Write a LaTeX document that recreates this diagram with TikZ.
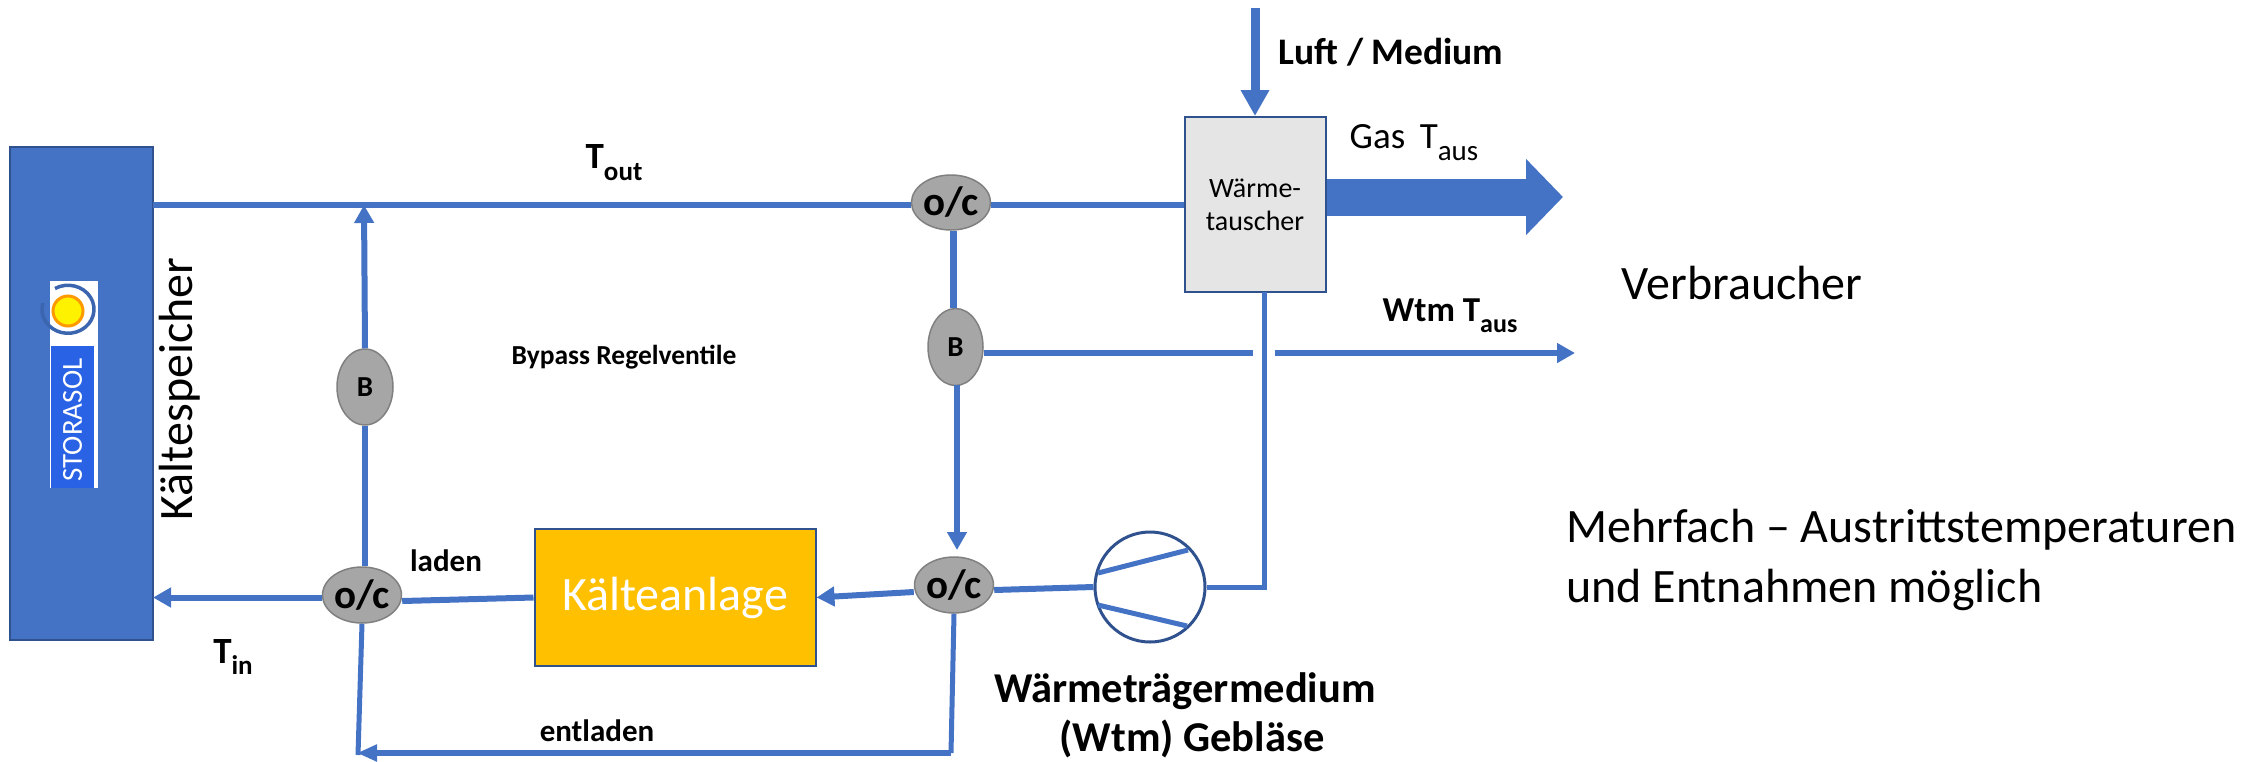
\documentclass[tikz,border=0pt]{standalone}
\usepackage{fontspec}
\setmainfont{Carlito}
\usetikzlibrary{arrows.meta,shapes.geometric}
\newcommand\fsz[1]{\fontsize{#1pt}{#1pt}\selectfont}
\newcommand\subtxt[2]{\raisebox{-0.32em}{\fontsize{#1pt}{#1pt}\selectfont #2}}
\definecolor{pipe}{HTML}{4472C4}
\definecolor{edgeblue}{HTML}{2F528F}
\definecolor{plantfill}{HTML}{FFC000}
\definecolor{panelblue}{HTML}{2A62E6}
\tikzset{
  pipeline/.style={draw=pipe,line width=6pt},
  thinpipe/.style={draw=pipe,line width=5pt},
  arrowpipe/.style={pipeline,-{Triangle[length=18pt,width=19pt]}},
  valve/.style={ellipse,draw=black!50,line width=1.5pt,fill=black!35,inner sep=0pt,text=black,font=\fsz{41}\bfseries},
  bvalve/.style={valve,font=\fsz{29}\bfseries},
  box/.style={rectangle,draw=edgeblue,line width=2pt,inner sep=0pt},
  label/.style={inner sep=0pt,text=black},
  bl/.style={label,font=\fsz{37}\bfseries},
  big/.style={label,font=\fsz{48}},
}
\begin{document}
\begin{tikzpicture}[x=1pt,y=-1pt]
\useasboundingbox (0,0) rectangle (2266,761);
% boxes
\node[box,fill=pipe,minimum width=143pt,minimum height=493pt] (tank) at (81.5,393.5) {};
\node[box,fill=black!10,minimum width=141pt,minimum height=175pt,align=center,font=\fsz{28}] (hx) at (1255,204.5) {W\"arme-\\[5pt]tauscher};
\node[rectangle,fill=white,minimum width=48pt,minimum height=207pt,inner sep=0pt] (logo) at (74,384.5) {};
\node[rectangle,fill=panelblue,minimum width=43pt,minimum height=142pt,inner sep=0pt] (logopanel) at (72.5,417) {};
\node[rotate=90,text=white,inner sep=0pt,font=\fsz{29}] (storasol) at (72.5,420) {STORASOL};
\node[circle,fill=yellow,draw=orange!80!yellow,line width=3pt,minimum size=30pt,inner sep=0pt] (sun) at (68,311) {};
\draw[edgeblue!40!pipe,line width=3.5pt] (sun.center) ++(120:26pt) arc (120:-195:26pt and 24pt);
\node[box,fill=plantfill,minimum width=281pt,minimum height=137pt,text=white,font=\fsz{48}] (plant) at (675,597.5) {K\"alteanlage};
% valves
\node[valve,minimum width=79pt,minimum height=55pt] (vt) at (951,202.5) {o/c};
\node[bvalve,minimum width=55pt,minimum height=77pt] (bm) at (955.5,347) {B};
\node[bvalve,minimum width=56pt,minimum height=76pt] (bl) at (365,387) {B};
\node[valve,minimum width=76pt,minimum height=56pt] (vr) at (954,585) {o/c};
\node[valve,minimum width=77pt,minimum height=56pt] (vl) at (362,595) {o/c};
\node[circle,draw=edgeblue,line width=3pt,minimum size=110pt,inner sep=0pt] (fan) at (1150,587) {};
% helper points
\coordinate (tout) at (153,205);
\coordinate (jt) at (364,205);
\coordinate (tin) at (153,597.5);
\coordinate (airtop) at (1255,8);
\coordinate (gasend) at (1563,197);
\coordinate (hxb) at (1264,292);
\coordinate (hxc) at (1264,587);
\coordinate (gapl) at (1253,353);
\coordinate (gapr) at (1275,353);
\coordinate (wtmend) at (1575,353);
\coordinate (botr) at (951,753);
\coordinate (botl) at (357,753);
\coordinate (botc) at (358,755);
% pipes
\draw[pipeline] (tout) -- (vt.west |- tout);
\draw[pipeline] (vt.east |- 0,205) -- (hx.west |- 0,205);
\draw[arrowpipe] (bl.north) -- (jt);
\draw[pipeline] (vl.north -| bl.south) -- (bl.south);
\draw[arrowpipe] (vl.west |- tin) -- (tin);
\draw[pipeline] (vl.east) ++(0,6) -- (plant.west);
\draw[arrowpipe] (vr.west) ++(0,7) -- (plant.east);
\draw[pipeline] (vr.east) ++(0,5) -- (fan.west);
\draw[pipeline,line width=7pt] (vt.south -| 953,0) -- (bm.north -| 953,0);
\draw[arrowpipe] (957,385) -- (957,550);
\draw[pipeline] (bm.east |- gapl) -- (gapl);
\draw[arrowpipe] (gapr) -- (wtmend);
\draw[thinpipe] (hxb) -- (hxc) -- (fan.east);
\draw[thinpipe,line width=5pt] (vr.south) -- (botr);
\draw[arrowpipe,line width=6pt,-{Triangle[length=20pt,width=16pt]}] (botr) -- (botl);
\draw[thinpipe] (vl.south) -- (botc);
\draw[pipe,line width=9pt,-{Triangle[length=26pt,width=27pt]}] (airtop) -- (hx.north -| airtop);
\draw[pipe,line width=37pt,-{Triangle[length=37pt,width=74pt]}] (hx.east |- gasend) -- (gasend);
% fan blades
\draw[thinpipe] (1098,573) -- (1188,550);
\draw[thinpipe] (1098,605) -- (1187,626);
% labels
\node[big,rotate=90] (lspeicher) at (180,389) {K\"altespeicher};
\node[bl] (ltout) at (614,163) {T\subtxt{27}{out}};
\node[bl] (ltin) at (233,657) {T\subtxt{27}{in}};
\node[label,font=\fsz{27.5}\bfseries] (lbypass) at (624,357) {Bypass Regelventile};
\node[label,font=\fsz{31}\bfseries] (lladen) at (446,561) {laden};
\node[label,font=\fsz{31}\bfseries] (lentladen) at (597,731) {entladen};
\node[label,font=\fsz{42.5}\bfseries] (lw1) at (1185,691) {W\"armetr\"agermedium};
\node[label,font=\fsz{42.5}\bfseries] (lw2) at (1192,739) {(Wtm) Gebl\"ase};
\node[label,font=\fsz{37.5}\bfseries] (lair) at (1391,52) {Luft / Medium};
\node[label,font=\fsz{37}] (lgas) at (1414,143) {Gas\, T\subtxt{29}{aus}};
\node[label,font=\fsz{35}\bfseries] (lwtm) at (1450,316) {Wtm T\subtxt{26}{aus}};
\node[big] (lverb) at (1742,283) {Verbraucher};
\node[big,anchor=west] (lm1) at (1566,530) {Mehrfach -- Austrittstemperaturen};
\node[big,anchor=west] (lm2) at (1566,590) {und Entnahmen m\"oglich};
\end{tikzpicture}
\end{document}
